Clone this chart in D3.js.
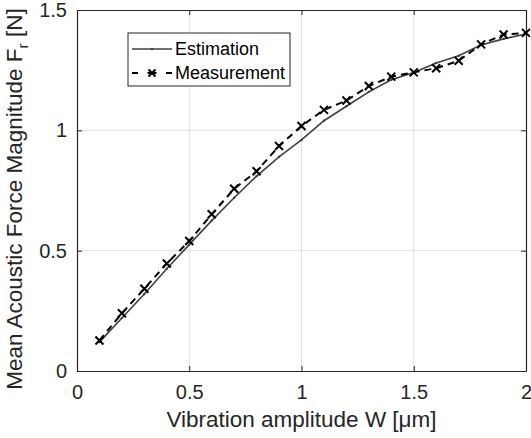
<!DOCTYPE html>
<html>
<head>
<meta charset="utf-8">
<script src="https://cdn.jsdelivr.net/npm/d3@7"></script>
<style>
body { margin: 0; background: #fff; }
text { font-family: "Liberation Sans", Arial, sans-serif; }
</style>
</head>
<body>
<script>
// vibration amplitude W [um]
var amplitude = [0.1, 0.2, 0.3, 0.4, 0.5, 0.6, 0.7, 0.8, 0.9, 1.0,
                 1.1, 1.2, 1.3, 1.4, 1.5, 1.6, 1.7, 1.8, 1.9, 2.0];

var estimation = [0.12, 0.22, 0.32, 0.425, 0.525, 0.625, 0.72, 0.81, 0.89, 0.96,
                  1.04, 1.10, 1.16, 1.21, 1.24, 1.28, 1.31, 1.355, 1.38, 1.40];

var measurement = [0.127, 0.24, 0.342, 0.447, 0.54, 0.651, 0.757, 0.83, 0.935, 1.018,
                   1.085, 1.124, 1.184, 1.223, 1.241, 1.258, 1.289, 1.357, 1.398, 1.405];

var xTicks = [0, 0.5, 1, 1.5, 2];
var yTicks = [0, 0.5, 1, 1.5];
var legendNames = ["Estimation", "Measurement"];

var svg = d3.select("body").append("svg")
            .attr("width", 531)
            .attr("height", 438);

var x = d3.scaleLinear().domain([0, 2]).range([77, 526]);
var y = d3.scaleLinear().domain([0, 1.5]).range([371, 10]);

// grid
svg.selectAll("line.gx")
   .data(xTicks.slice(1, -1))
   .enter().append("line")
   .attr("x1", function(d) { return x(d); })
   .attr("x2", function(d) { return x(d); })
   .attr("y1", y(0)).attr("y2", y(1.5))
   .attr("stroke", "#dfdfdf").attr("stroke-width", 1);

svg.selectAll("line.gy")
   .data(yTicks.slice(1, -1))
   .enter().append("line")
   .attr("y1", function(d) { return y(d); })
   .attr("y2", function(d) { return y(d); })
   .attr("x1", x(0)).attr("x2", x(2))
   .attr("stroke", "#dfdfdf").attr("stroke-width", 1);

// axes (ticks point inward like matlab)
var xAxis = svg.append("g")
               .attr("transform", "translate(0," + y(0) + ")")
               .call(d3.axisBottom(x).tickValues(xTicks).tickFormat(d3.format("")).tickSizeInner(-5).tickSizeOuter(0).tickPadding(14));
var xTop = svg.append("g")
              .attr("transform", "translate(0," + y(1.5) + ")")
              .call(d3.axisTop(x).tickValues(xTicks).tickFormat("").tickSizeInner(-5).tickSizeOuter(0));
var yAxis = svg.append("g")
               .attr("transform", "translate(" + x(0) + ",0)")
               .call(d3.axisLeft(y).tickValues(yTicks).tickFormat(d3.format("")).tickSizeInner(-5).tickSizeOuter(0).tickPadding(10));
var yRight = svg.append("g")
                .attr("transform", "translate(" + x(2) + ",0)")
                .call(d3.axisRight(y).tickValues(yTicks).tickFormat("").tickSizeInner(-5).tickSizeOuter(0));

svg.selectAll(".domain").attr("stroke", "#262626").attr("stroke-width", 1.2);
svg.selectAll(".tick line").attr("stroke", "#262626");
svg.selectAll(".tick text")
   .attr("fill", "#262626")
   .style("font-size", "20px")
   .style("font-family", "'Liberation Sans', Arial, sans-serif");

// data lines
var pts = amplitude.map(function(a, i) { return { w: a, e: estimation[i], m: measurement[i] }; });

var estLine = d3.line()
                .x(function(d) { return x(d.w); })
                .y(function(d) { return y(d.e); });
var measLine = d3.line()
                 .x(function(d) { return x(d.w); })
                 .y(function(d) { return y(d.m); });

svg.append("path")
   .attr("d", estLine(pts))
   .attr("fill", "none")
   .attr("stroke", "#404040")
   .attr("stroke-width", 1.6);

svg.selectAll("circle.est")
   .data(pts).enter().append("circle")
   .attr("cx", function(d) { return x(d.w); })
   .attr("cy", function(d) { return y(d.e); })
   .attr("r", 1.2)
   .attr("fill", "#404040");

svg.append("path")
   .attr("d", measLine(pts))
   .attr("fill", "none")
   .attr("stroke", "#000")
   .attr("stroke-width", 2)
   .attr("stroke-dasharray", "7,5");

var cross = function(cx, cy, s) {
  return "M" + (cx - s) + "," + (cy - s) + "L" + (cx + s) + "," + (cy + s) +
         "M" + (cx - s) + "," + (cy + s) + "L" + (cx + s) + "," + (cy - s);
};

svg.selectAll("path.mk")
   .data(pts).enter().append("path")
   .attr("d", function(d) { return cross(x(d.w), y(d.m), 4); })
   .attr("stroke", "#000")
   .attr("stroke-width", 2);

// axis labels
svg.append("text")
   .attr("x", (x(0) + x(2)) / 2)
   .attr("y", 427)
   .attr("text-anchor", "middle")
   .style("font-size", "22.5px")
   .attr("fill", "#262626")
   .text("Vibration amplitude W [\u03bcm]");

var ylab = svg.append("text")
              .attr("transform", "translate(22," + 199 + ") rotate(-90)")
              .attr("text-anchor", "middle")
              .style("font-size", "22.5px")
              .attr("fill", "#262626");
ylab.append("tspan").text("Mean Acoustic Force Magnitude F");
ylab.append("tspan").attr("dy", 6).style("font-size", "15.5px").text("r");
ylab.append("tspan").attr("dy", -6).text(" [N]");

// legend
var leg = svg.append("g");
leg.append("rect")
   .attr("x", 128).attr("y", 33)
   .attr("width", 162).attr("height", 53)
   .attr("fill", "#fff")
   .attr("stroke", "#262626")
   .attr("stroke-width", 1);

leg.append("line")
   .attr("x1", 132).attr("x2", 172)
   .attr("y1", 49).attr("y2", 49)
   .attr("stroke", "#404040").attr("stroke-width", 1.6);
leg.append("circle").attr("cx", 152).attr("cy", 49).attr("r", 1.2).attr("fill", "#404040");

leg.append("line")
   .attr("x1", 132).attr("x2", 172)
   .attr("y1", 73).attr("y2", 73)
   .attr("stroke", "#000").attr("stroke-width", 2)
   .attr("stroke-dasharray", "6,9.5,9,9.5,6");
leg.append("path")
   .attr("d", cross(152, 73, 3.5))
   .attr("stroke", "#000").attr("stroke-width", 2);

leg.selectAll("text")
   .data(legendNames).enter().append("text")
   .attr("x", 175)
   .attr("y", function(d, i) { return 49 + i * 24; })
   .attr("dy", "0.35em")
   .style("font-size", "18px")
   .attr("fill", "#000")
   .text(function(d) { return d; });
</script>
</body>
</html>
